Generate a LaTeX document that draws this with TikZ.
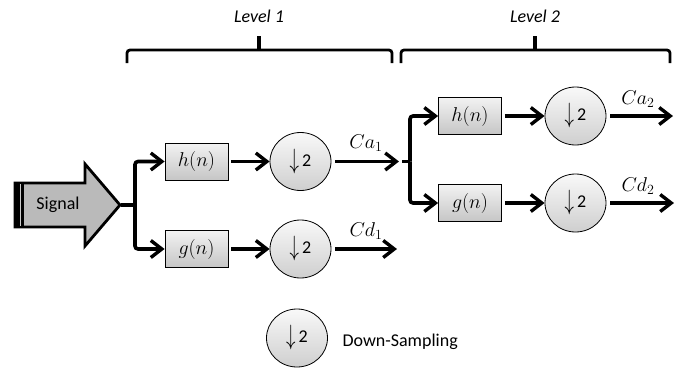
\RequirePackage{fix-cm}
\documentclass[tikz,border=0pt]{standalone}
\usepackage{fontspec}
\setmainfont{Carlito}
\usetikzlibrary{arrows.meta,shapes.geometric}
\newcommand{\dsym}{\raisebox{-2pt}{\scalebox{1.05}[1.55]{$\downarrow$}}\,2}
\newcommand{\mth}[1]{{\fontsize{20}{22}\selectfont$#1$}}
\begin{document}
\begin{tikzpicture}[x=1pt,y=-1pt,
  every node/.style={font=\fontsize{18}{20}\selectfont},
  flow/.style={line width=3.6pt,-{Straight Barb[length=11pt,width=17pt,line width=3.4pt]}},
  bus/.style={line width=3.6pt,rounded corners=3pt},
  filt/.style={draw,line width=0.8pt,minimum width=63pt,minimum height=37pt,inner sep=0pt,
               top color=gray!10,bottom color=gray!45},
  dsamp/.style={ellipse,draw,line width=0.8pt,minimum width=61pt,minimum height=58pt,inner sep=0pt,
               top color=gray!5,bottom color=gray!38},
  brc/.style={line width=2.8pt,rounded corners=3pt},
  lvl/.style={font=\fontsize{18}{20}\selectfont\itshape}]
\useasboundingbox (0,0) rectangle (681,373);

% input signal arrow
\filldraw[fill=black!27,line width=2.8pt,line join=miter]
  (15,183) -- (85,183) -- (85,164) -- (120,205) -- (85,246) -- (85,227) -- (15,227) -- cycle;
\fill[black] (13.6,181.6) rectangle (24,228.4);
\draw[gray!40,line width=0.9pt] (20.5,184) -- (20.5,226);
\node (sig) at (58,205) {Signal};
\coordinate (tip) at (121,205);

% level 1
\coordinate (j1) at (135,205);
\node[filt] (h1) at (196.5,161.5) {\mth{h(n)}};
\node[filt] (g1) at (196.5,249) {\mth{g(n)}};
\node[dsamp] (d1a) at (300.5,161.5) {\dsym};
\node[dsamp] (d1b) at (300.5,249) {\dsym};
\coordinate (ca1) at (399,161.5);
\coordinate (cd1) at (397,249);

\draw[line width=3.6pt] (tip) -- (j1);
\draw[flow,bus] (j1) |- (h1.west);
\draw[flow,bus] (j1) |- (g1.west);
\draw[flow,shorten <=3pt] (h1.east) -- (d1a.west);
\draw[flow,shorten <=3pt] (g1.east) -- (d1b.west);
\draw[flow,shorten <=4pt] (d1a.east) -- (ca1);
\draw[flow,shorten <=4pt] (d1b.east) -- (cd1);
\node (lca1) at (366,143) {\mth{Ca_1}};
\node (lcd1) at (366,231) {\mth{Cd_1}};

% level 2
\coordinate (s2) at (402,161.5);
\coordinate (j2) at (410,161.5);
\node[filt] (h2) at (470,116) {\mth{h(n)}};
\node[filt] (g2) at (470,203) {\mth{g(n)}};
\node[dsamp] (d2a) at (575.5,116) {\dsym};
\node[dsamp] (d2b) at (575.5,203) {\dsym};
\coordinate (ca2) at (673,116);
\coordinate (cd2) at (674,203);

\draw[line width=3.6pt] (s2) -- (j2);
\draw[flow,bus] (j2) |- (h2.west);
\draw[flow,bus] (j2) |- (g2.west);
\draw[flow,shorten <=3pt] (h2.east) -- (d2a.west);
\draw[flow,shorten <=3pt] (g2.east) -- (d2b.west);
\draw[flow,shorten <=4pt] (d2a.east) -- (ca2);
\draw[flow,shorten <=4pt] (d2b.east) -- (cd2);
\node (lca2) at (638,99) {\mth{Ca_2}};
\node (lcd2) at (638,186) {\mth{Cd_2}};

% level braces
\draw[brc] (127,63) -- (127,50) -- (392,50) -- (392,63);
\draw[line width=3.2pt] (259,50) -- (259,36);
\node[lvl] (l1) at (259,16) {Level 1};
\draw[brc] (401,63) -- (401,50) -- (670,50) -- (670,63);
\draw[line width=3.2pt] (535,50) -- (535,36);
\node[lvl] (l2) at (535,16) {Level 2};

% legend
\node[dsamp] (key) at (297,338) {\dsym};
\node[anchor=west] (keytxt) at (339,342) {Down-Sampling};
\end{tikzpicture}
\end{document}
